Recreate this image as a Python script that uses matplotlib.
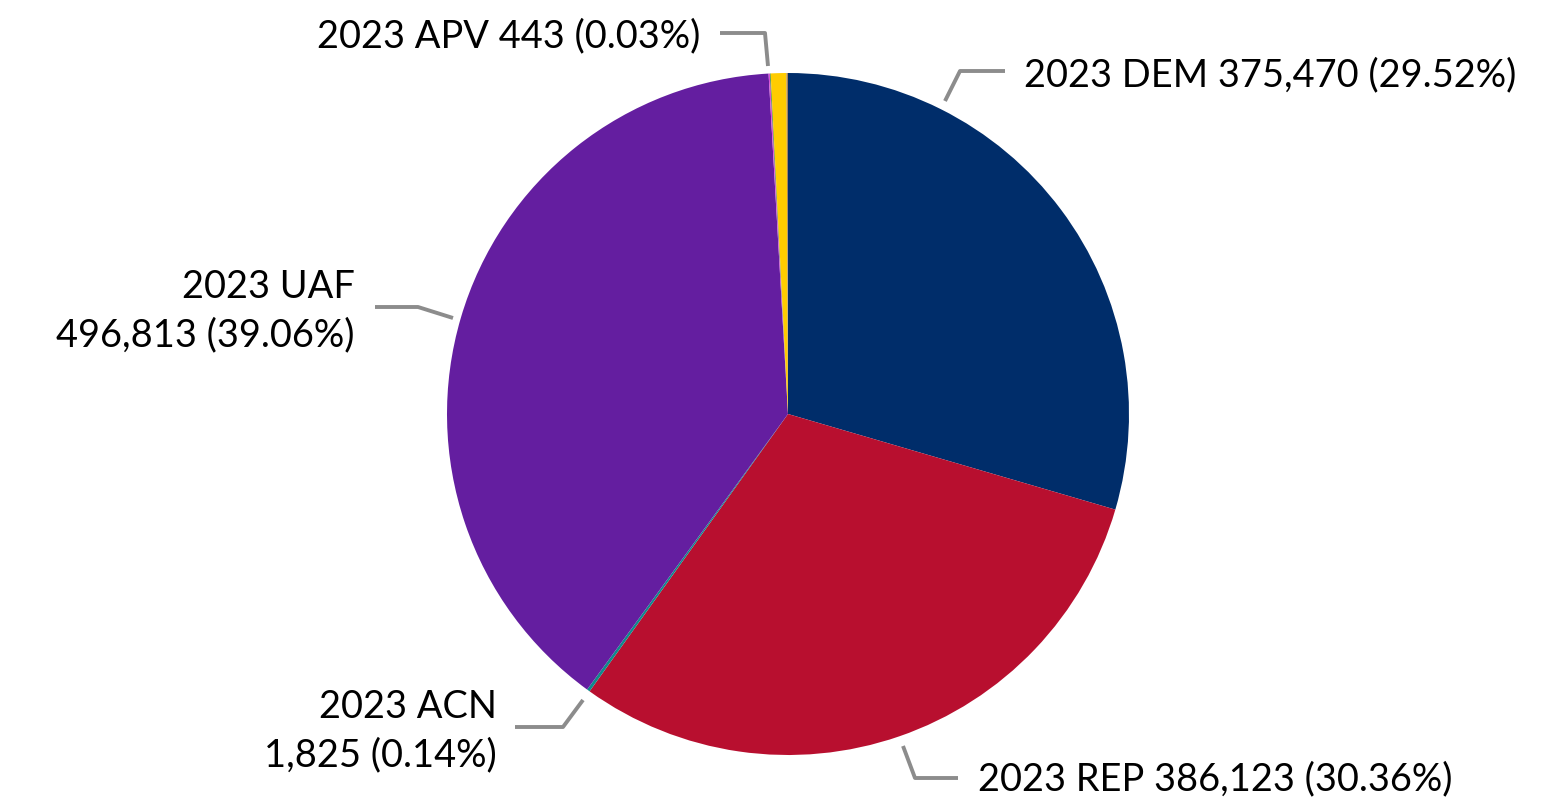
import matplotlib
matplotlib.use("Agg")
import matplotlib.pyplot as plt

# slice data, clockwise from 12 o'clock
parties = ["DEM", "REP", "ACN", "UAF", "OTH1", "APV", "OTH2", "OTH3"]
votes = [375470, 386123, 1825, 496813, 800, 443, 9400, 900]
colors = ["#002D6A", "#B80F2F", "#0E8A8C", "#641EA0",
          "#D94FD6", "#2E8B2E", "#FFCC00", "#A6845C"]

labels = {
    "DEM": "2023 DEM 375,470 (29.52%)",
    "REP": "2023 REP 386,123 (30.36%)",
    "ACN": "2023 ACN\n1,825 (0.14%)",
    "UAF": "2023 UAF\n496,813 (39.06%)",
    "APV": "2023 APV 443 (0.03%)",
}

W, H = 1541, 808
CX, CY, R = 788, 414, 341


def px(x, y):
    return (x - CX) / R, (CY - y) / R


plt.rcParams["font.family"] = ["Lato", "DejaVu Sans"]
fig = plt.figure(figsize=(W / 100, H / 100), dpi=100)
ax = fig.add_axes([0, 0, 1, 1])
ax.pie(votes, colors=colors, startangle=90, counterclock=False, radius=1,
       wedgeprops=dict(linewidth=0))
ax.set_xlim(-CX / R, (W - CX) / R)
ax.set_ylim((CY - H) / R, CY / R)
ax.set_aspect("auto")
ax.axis("off")

# leader lines (pixel layout) and label anchors
layout = {
    "APV": ([(720, 33), (765, 33), (768, 66)], (700, 36), "right"),
    "DEM": ([(1005, 71), (960, 71), (945, 101)], (1024, 75), "left"),
    "UAF": ([(375, 307), (418, 307), (453, 318)], (355, 311), "right"),
    "ACN": ([(515, 727), (563, 727), (583, 700)], (497, 731), "right"),
    "REP": ([(958, 778), (915, 778), (903, 746)], (978, 779), "left"),
}
for key, (pts, (tx, ty), ha) in layout.items():
    xs, ys = zip(*[px(*p) for p in pts])
    ax.plot(xs, ys, color="#8C8C8C", lw=2.8, solid_capstyle="butt")
    ax.text(*px(tx, ty), labels[key], ha=ha, va="center", fontsize=27.4,
            color="black", linespacing=1.4)

fig.savefig("out.png", dpi=100, facecolor="white")
